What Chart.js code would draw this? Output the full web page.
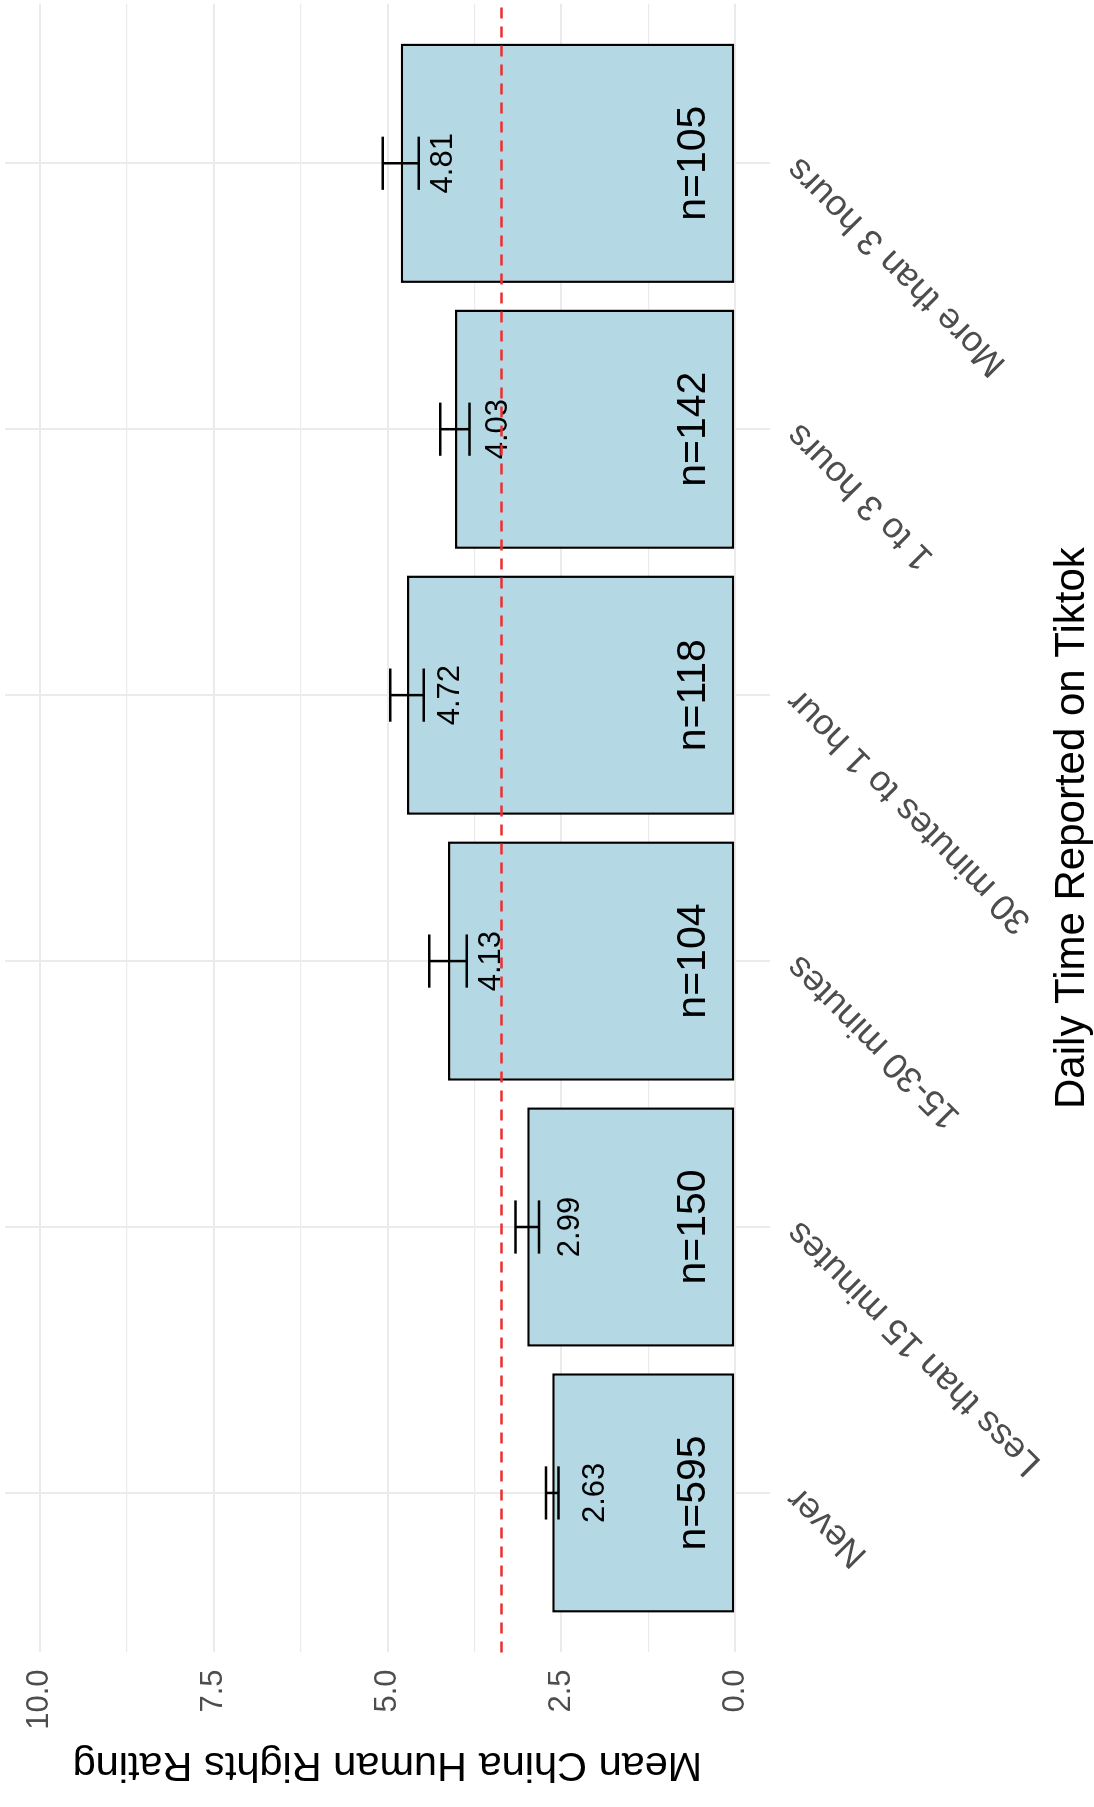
<!DOCTYPE html>
<html>
<head>
<meta charset="utf-8">
<title>Mean China Human Rights Rating by Daily Time Reported on Tiktok</title>
<script src="https://cdn.jsdelivr.net/npm/chart.js@4.4.1/dist/chart.umd.min.js"></script>
<style>
  html, body { margin: 0; padding: 0; background: #fff; overflow: hidden; }
  #wrap { position: relative; width: 1094px; height: 1807px; }
  /* plot is drawn upright, then turned a quarter turn like the source image */
  #chart { position: absolute; left: 0; top: 0; transform-origin: 0 0; transform: translate(0, 1807px) rotate(-90deg); }
</style>
</head>
<body>
<div id="wrap"><canvas id="chart" width="1807" height="1094"></canvas></div>
<script>
// data
const categories = ['Never', 'Less than 15 minutes', '15-30 minutes', '30 minutes to 1 hour', '1 to 3 hours', 'More than 3 hours'];
const means = [2.63, 2.99, 4.13, 4.72, 4.03, 4.81];
const stdErrors = [0.09, 0.17, 0.27, 0.24, 0.21, 0.26];
const counts = [595, 150, 104, 118, 142, 105];
const overallMean = 3.36;
const valueTicks = [0, 1.25, 2.5, 3.75, 5, 6.25, 7.5, 8.75, 10];
const majorTicks = [0, 2.5, 5, 7.5, 10];

const FONT = '"Liberation Sans", Arial, Helvetica, sans-serif';
Chart.defaults.font.family = FONT;

// error bars, value labels, n labels and the dashed mean line
const extrasPlugin = {
    id: 'extras',
    afterDatasetsDraw(chart) {
        const { ctx, chartArea } = chart;
        const x = chart.scales.x;
        const y = chart.scales.y;
        ctx.save();

        ctx.strokeStyle = '#000';
        ctx.lineWidth = 2.5;
        means.forEach((m, i) => {
            const cx = x.getPixelForValue(i + 1);
            const xl = x.getPixelForValue(i + 1 - 0.1);
            const xr = x.getPixelForValue(i + 1 + 0.1);
            const yHi = y.getPixelForValue(m + stdErrors[i]);
            const yLo = y.getPixelForValue(m - stdErrors[i]);
            ctx.beginPath();
            ctx.moveTo(cx, yHi); ctx.lineTo(cx, yLo);
            ctx.moveTo(xl, yHi); ctx.lineTo(xr, yHi);
            ctx.moveTo(xl, yLo); ctx.lineTo(xr, yLo);
            ctx.stroke();
        });

        ctx.fillStyle = '#000';
        ctx.textAlign = 'center';
        ctx.textBaseline = 'middle';
        ctx.font = '31px ' + FONT;
        means.forEach((m, i) => {
            ctx.fillText(m.toFixed(2), x.getPixelForValue(i + 1), y.getPixelForValue(m) + 43);
        });
        ctx.font = '41px ' + FONT;
        counts.forEach((n, i) => {
            ctx.fillText('n=' + n, x.getPixelForValue(i + 1), y.getPixelForValue(0) - 42);
        });

        ctx.strokeStyle = '#EE2E2E';
        ctx.lineWidth = 2.5;
        ctx.setLineDash([11, 8]);
        const ym = y.getPixelForValue(overallMean);
        ctx.beginPath();
        ctx.moveTo(chartArea.left, ym);
        ctx.lineTo(chartArea.right, ym);
        ctx.stroke();

        ctx.restore();
    }
};

const ctx = document.getElementById('chart').getContext('2d');
const chart = new Chart(ctx, {
    type: 'bar',
    data: {
        datasets: [{
            data: means.map((m, i) => ({ x: i + 1, y: m })),
            backgroundColor: '#B4D9E5',
            borderColor: '#000',
            borderWidth: 2.5,
            borderSkipped: false,
            categoryPercentage: 1,
            barPercentage: 0.9,
        }],
    },
    options: {
        responsive: false,
        animation: false,
        devicePixelRatio: 1,
        layout: { padding: { top: 5, right: 3.7, bottom: 0, left: 0 } },
        plugins: {
            legend: { display: false },
            tooltip: { enabled: false },
        },
        scales: {
            x: {
                type: 'linear',
                min: 0.4,
                max: 6.6,
                bounds: 'data',
                offset: false,
                afterBuildTicks: axis => { axis.ticks = categories.map((c, i) => ({ value: i + 1 })); },
                afterFit: axis => { axis.height = 324; axis.paddingLeft = 0; axis.paddingRight = 0; },
                border: { display: false },
                grid: { color: '#EBEBEB', lineWidth: 2, drawTicks: false, offset: false },
                ticks: {
                    callback: (value, index) => categories[index],
                    autoSkip: false,
                    minRotation: 45,
                    maxRotation: 45,
                    padding: 8,
                    color: '#4D4D4D',
                    font: { size: 36 },
                },
                title: {
                    display: true,
                    text: 'Daily Time Reported on Tiktok',
                    color: '#000',
                    font: { size: 42, lineHeight: 1 },
                    padding: { top: 0, bottom: 1 },
                },
            },
            y: {
                type: 'linear',
                min: -0.5,
                max: 10.5,
                bounds: 'data',
                afterBuildTicks: axis => { axis.ticks = valueTicks.map(v => ({ value: v })); },
                afterFit: axis => { axis.width = 154.5; axis.paddingTop = 0; axis.paddingBottom = 0; },
                border: { display: false },
                grid: {
                    color: '#EBEBEB',
                    lineWidth: c => (majorTicks.includes(c.tick.value) ? 2 : 1.3),
                    drawTicks: false,
                },
                ticks: {
                    callback: value => (majorTicks.includes(value) ? value.toFixed(1) : ''),
                    padding: 17,
                    color: '#4D4D4D',
                    font: { size: 31 },
                },
                title: {
                    display: true,
                    text: 'Mean China Human Rights Rating',
                    color: '#000',
                    font: { size: 41.5, lineHeight: 1 },
                    padding: { top: 22, bottom: 0 },
                },
            },
        },
    },
    plugins: [extrasPlugin],
});
</script>
</body>
</html>
